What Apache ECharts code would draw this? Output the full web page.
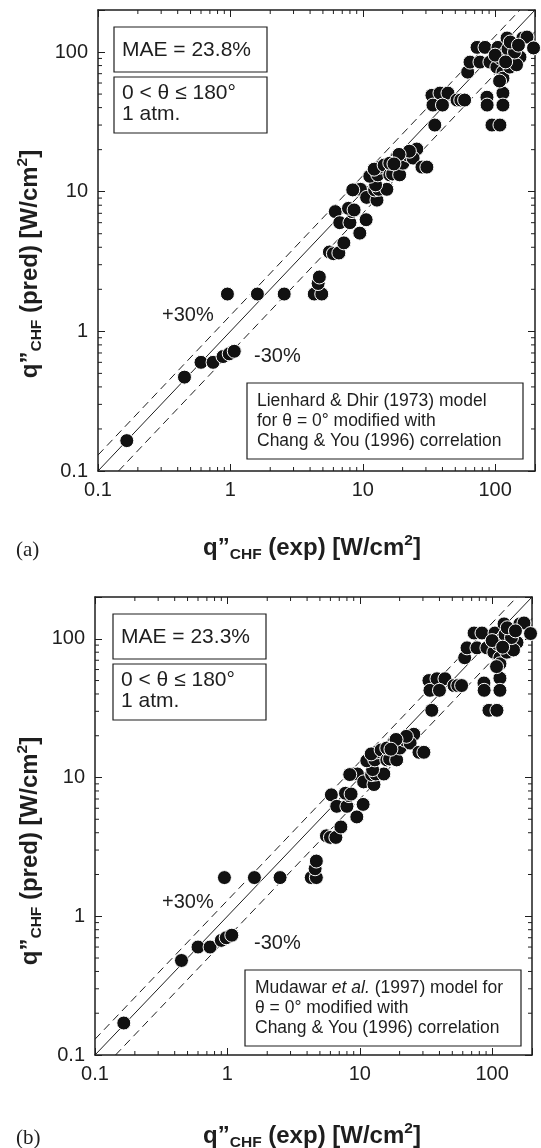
<!DOCTYPE html>
<html><head><meta charset="utf-8">
<script src="https://cdn.jsdelivr.net/npm/echarts@6/dist/echarts.min.js"></script>
<style>html,body{margin:0;padding:0;background:#fff}#c{width:541px;height:1148px}</style>
</head><body><div id="c"></div>
<script>
// ---- data ----
const tickLabels = ['0.1', '1', '10', '100'];
const minorTicks = [0.2,0.3,0.4,0.5,0.6,0.7,0.8,0.9,2,3,4,5,6,7,8,9,20,30,40,50,60,70,80,90];
const axisMin = 0.1, axisMax = 200;
const bandRatios = [1.3, 0.7];
const maeA = 'MAE = 23.8%';
const maeB = 'MAE = 23.3%';
const condLines = ['0 < θ ≤ 180°', '1 atm.'];
const legendA = ['Lienhard & Dhir (1973) model', 'for θ = 0° modified with', 'Chang & You (1996) correlation'];
const legendB = ['{t|Mudawar }{i|et al.}{t| (1997) model for}', '{t|θ = 0° modified with}', '{t|Chang & You (1996) correlation}'];

const dataA = [
 [0.165,0.165],[0.45,0.47],[0.6,0.6],[0.74,0.6],[0.88,0.66],[0.98,0.69],[1.07,0.72],
 [0.95,1.85],[1.6,1.85],[2.55,1.85],[4.3,1.85],[4.9,1.85],[4.6,2.2],[4.7,2.45],
 [5.6,3.7],[6.0,3.6],[6.6,3.64],[7.2,4.3],[6.2,7.2],[6.7,6.0],[8.0,6.0],[8.3,7.2],[7.8,7.6],[8.6,7.4],
 [9.5,5.05],[10.6,6.3],[9.0,10.4],[9.6,10.4],[8.4,10.3],[10.7,9.1],[12.8,8.7],[12.3,10.3],[13.2,10.4],
 [15.2,10.4],[12.5,11.2],
 [11.3,12.9],[13.0,13.2],[13.5,15.0],[12.2,14.5],[14.5,15.5],[16.0,13.2],[16.8,13.4],[19.0,13.2],
 [18.1,17.7],[20.1,16.0],[16.0,16.0],[21.9,18.3],[25.6,20.2],[24.0,17.4],[22.5,19.5],[18.8,18.5],
 [28,15],[30.5,15],[17.2,15.8],
 [35,30],[33.3,49],[33.9,41.7],[38.3,50.8],[44,50.8],[40,41.7],[51.5,45.3],[55,45.3],[58.8,45.3],
 [62,71.8],[64.6,84.7],[76.8,84.7],[73,108],[83.8,108],[91.3,84.7],[86.7,47.5],[87,41.7],
 [114.5,50.8],[114.5,41.7],[94.6,30],[108.7,30],[105,108],[123,126],[162,126],[174,128],[195,107],
 [118.6,98],[136,87.5],[154,92],[103,78],[114.5,71.8],[114.5,65],[129,78],[145,81],[110,90],
 [125,105],[140,100],[130,118],[150,112],[100,95],[120,85],[108,62]
];
const dataB = [
 [0.165,0.17],[0.45,0.48],[0.6,0.6],[0.74,0.6],[0.9,0.67],[0.98,0.7],[1.08,0.73],
 [0.95,1.9],[1.6,1.9],[2.5,1.9],[4.3,1.9],[4.7,1.9],[4.6,2.2],[4.7,2.5],
 [5.6,3.8],[6.0,3.7],[6.6,3.7],[7.2,4.4],[6.1,7.5],[6.7,6.2],[8.0,6.2],[8.3,7.4],[7.8,7.7],[8.6,7.6],
 [9.5,5.2],[10.6,6.4],[9.0,10.6],[9.6,10.6],[8.4,10.5],[10.7,9.3],[12.8,8.9],[12.3,10.5],[13.2,10.6],
 [15.2,10.6],[12.5,11.4],
 [11.3,13.2],[13.0,13.4],[13.5,15.3],[12.2,14.8],[14.5,15.8],[16.0,13.4],[16.8,13.6],[19.0,13.4],
 [18.1,18.0],[20.1,16.3],[16.0,16.3],[21.9,18.6],[25.6,20.5],[24.0,17.7],[22.5,19.8],[18.8,18.8],
 [28,15.2],[30.5,15.2],[17.2,16.0],
 [35,30.5],[33.3,50],[33.9,42.5],[38.3,51.5],[44,51.5],[40,42.5],[51.5,46],[55,46],[58.8,46],
 [62,73],[64.6,86],[76.8,86],[73,110],[83.8,110],[91.3,86],[86.7,48],[87,42.5],
 [114.5,52],[114.5,42.5],[94.6,30.5],[108.7,30.5],[105,110],[123,128],[162,128],[174,130],[195,109],
 [118.6,100],[136,89],[154,94],[103,80],[114.5,73],[114.5,66],[129,80],[145,83],[110,92],
 [125,107],[140,102],[130,120],[150,114],[100,97],[120,87],[108,63]
];

// ---- layout ----
const FONT = '"Liberation Sans", Arial, Helvetica, sans-serif';
const grids = [
  {left: 98, top: 10, width: 437, height: 461},
  {left: 95, top: 597, width: 437, height: 458}
];
const INK = '#1e1e1e';

function fmt(v) {
  const l = Math.log10(v);
  const r = Math.round(l);
  if (Math.abs(l - r) > 1e-6) return '';
  const idx = r + 1;
  return tickLabels[idx] !== undefined ? tickLabels[idx] : '';
}

const xAxis = [], yAxis = [], series = [];
grids.forEach((g, i) => {
  const base = {
    type: 'log', logBase: 10, min: axisMin, max: axisMax, gridIndex: i,
    splitLine: {show: false},
    axisLine: {show: true, onZero: false, lineStyle: {color: INK, width: 1.5}},
    axisTick: {show: true, inside: true, length: 7, lineStyle: {color: INK, width: 1}},
  };
  xAxis.push(Object.assign({}, base, {position: 'bottom',
    axisLabel: {show: true, formatter: fmt, fontSize: 20, color: INK, fontFamily: FONT, margin: 9}}));
  xAxis.push(Object.assign({}, base, {position: 'top', axisLabel: {show: false}}));
  yAxis.push(Object.assign({}, base, {position: 'left',
    axisLabel: {show: true, formatter: fmt, fontSize: 20, color: INK, fontFamily: FONT, margin: 10}}));
  yAxis.push(Object.assign({}, base, {position: 'right', axisLabel: {show: false}}));

  const xi = 2 * i, yi = 2 * i;
  // minor ticks
  series.push({
    type: 'custom', xAxisIndex: xi, yAxisIndex: yi, silent: true, z: 4,
    data: minorTicks.map(v => [v, v]),
    renderItem: function (params, api) {
      const v = api.value(0);
      const b = api.coord([v, axisMin]), t = api.coord([v, axisMax]);
      const l = api.coord([axisMin, v]), r = api.coord([axisMax, v]);
      const L = 4;
      const st = {stroke: INK, lineWidth: 1};
      return {type: 'group', children: [
        {type: 'line', shape: {x1: b[0], y1: b[1], x2: b[0], y2: b[1] - L}, style: st},
        {type: 'line', shape: {x1: t[0], y1: t[1], x2: t[0], y2: t[1] + L}, style: st},
        {type: 'line', shape: {x1: l[0], y1: l[1], x2: l[0] + L, y2: l[1]}, style: st},
        {type: 'line', shape: {x1: r[0], y1: r[1], x2: r[0] - L, y2: r[1]}, style: st}
      ]};
    }
  });
  // 1:1 line
  series.push({type: 'line', xAxisIndex: xi, yAxisIndex: yi, silent: true, symbol: 'none', z: 2,
    lineStyle: {color: INK, width: 1}, data: [[axisMin, axisMin], [axisMax, axisMax]]});
  // +/-30% lines
  bandRatios.forEach(k => {
    const d = k > 1 ? [[axisMin, axisMin * k], [axisMax / k, axisMax]]
                    : [[axisMin / k, axisMin], [axisMax, axisMax * k]];
    series.push({type: 'line', xAxisIndex: xi, yAxisIndex: yi, silent: true, symbol: 'none', z: 2,
      lineStyle: {color: INK, width: 1, type: [8, 5]}, data: d});
  });
  series.push({type: 'scatter', xAxisIndex: xi, yAxisIndex: yi, z: 3, symbolSize: 14,
    itemStyle: {color: '#111', borderColor: '#fff', borderWidth: 1, opacity: 1},
    data: i === 0 ? dataA : dataB});
});

// ---- annotations ----
const graphic = [];
function box(x, y, w, h) {
  graphic.push({type: 'rect', shape: {x: x, y: y, width: w, height: h},
    style: {fill: '#fff', stroke: INK, lineWidth: 1.2}, z: 10});
}
function txt(x, y, text, o) {
  graphic.push({type: 'text', x: x, y: y, z: 11, rotation: (o && o.rot) || 0,
    style: Object.assign({text: text, fill: INK, font: '20px ' + FONT, align: 'left', verticalAlign: 'middle'}, o && o.style)});
}
const titleRich = {
  a: {fontSize: 24, fontWeight: 'bold', fontFamily: FONT, color: INK, lineHeight: 30, verticalAlign: 'middle'},
  s: {fontSize: 15.5, fontWeight: 'bold', fontFamily: FONT, color: INK, lineHeight: 16, verticalAlign: 'bottom'},
  p: {fontSize: 15.5, fontWeight: 'bold', fontFamily: FONT, color: INK, lineHeight: 22, verticalAlign: 'top'}
};
const legRich = {
  t: {fontSize: 17.5, fontFamily: FONT, color: INK, lineHeight: 20},
  i: {fontSize: 17.5, fontFamily: FONT, fontStyle: 'italic', color: INK, lineHeight: 20}
};
const panels = [
  {dy: 0, mae: maeA, leg: legendA.map(s => '{t|' + s + '}'), lx: 247, label: '(a)', bx: 114, ty: 77},
  {dy: 587, mae: maeB, leg: legendB, lx: 245, label: '(b)', bx: 113, ty: 81}
];
panels.forEach((p, i) => {
  const g = grids[i];
  box(p.bx, 27 + p.dy, 153, 45);
  txt(p.bx + 8, 50 + p.dy, p.mae, {style: {font: '21px ' + FONT}});
  box(p.bx, 77 + p.dy, 153, 56);
  txt(p.bx + 8, 104 + p.dy, condLines.join('\n'), {style: {font: '21px ' + FONT, lineHeight: 21}});
  box(p.lx, 383 + p.dy, 276, 76);
  txt(p.lx + 10, 421 + p.dy, p.leg.join('\n'), {style: {rich: legRich, font: '17.5px ' + FONT, lineHeight: 20}});
  txt(162, 315 + p.dy, '+30%', {style: {font: '20px ' + FONT}});
  txt(254, 356 + p.dy, '-30%', {style: {font: '20px ' + FONT}});
  // axis titles
  txt(30, g.top + 254, '{a|q”}{s|CHF}{a| (pred) [W/cm}{p|2}{a|]}',
    {rot: Math.PI / 2, style: {rich: titleRich, align: 'center'}});
  txt(312, g.top + g.height + p.ty, '{a|q”}{s|CHF}{a| (exp) [W/cm}{p|2}{a|]}',
    {style: {rich: titleRich, align: 'center'}});
  txt(16, g.top + g.height + p.ty + 2, p.label, {style: {font: '21px "Liberation Serif", "Times New Roman", serif'}});
});

const chart = echarts.init(document.getElementById('c'), null, {renderer: 'canvas'});
chart.setOption({
  animation: false,
  backgroundColor: '#fff',
  grid: grids.map(g => Object.assign({show: false}, g)),
  xAxis: xAxis, yAxis: yAxis, series: series, graphic: graphic
});
</script></body></html>
